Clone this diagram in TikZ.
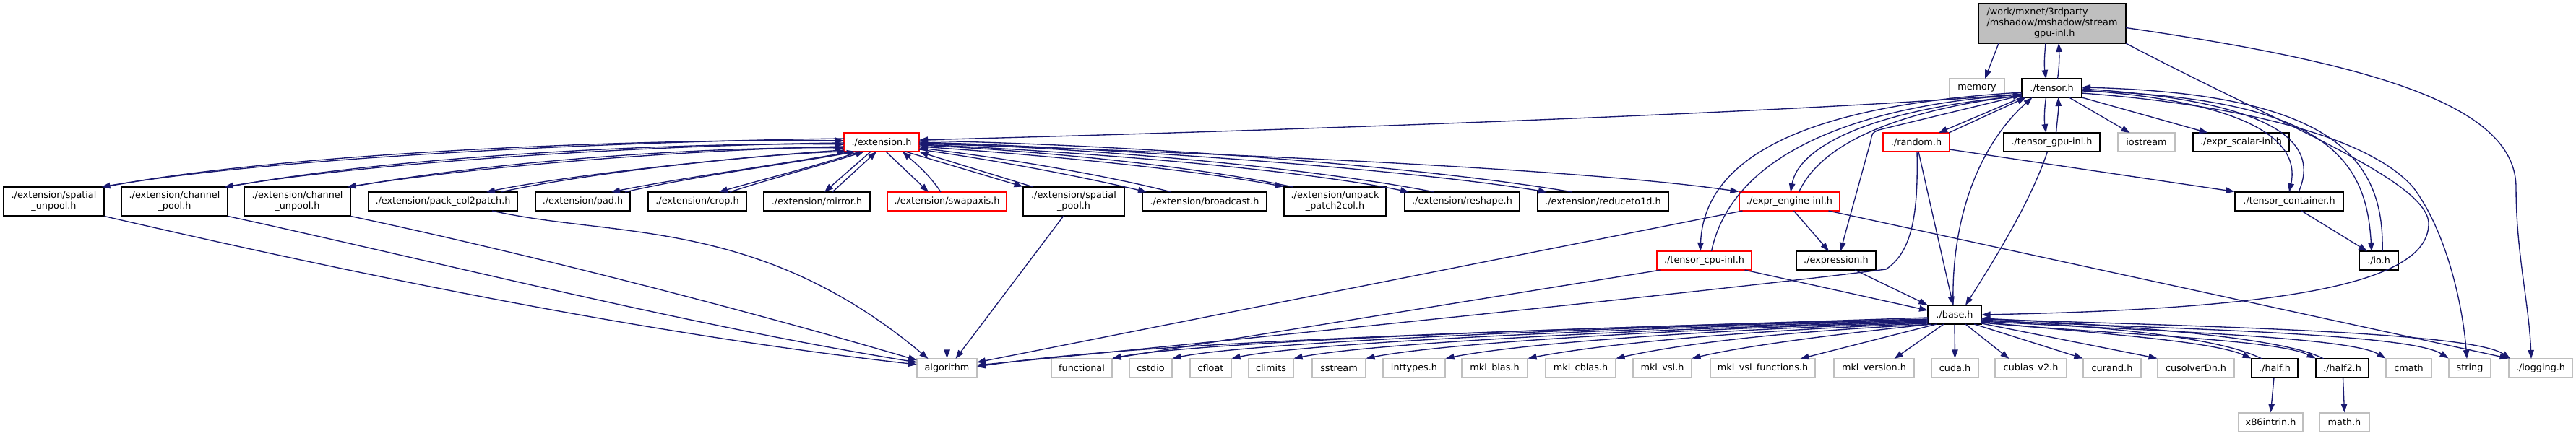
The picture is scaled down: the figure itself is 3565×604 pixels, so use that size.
\documentclass[tikz,border=0pt]{standalone}
\usepackage{fontspec}
\setmainfont{DejaVu Sans}
\usetikzlibrary{arrows.meta}
\definecolor{eb}{RGB}{25,25,112}
\definecolor{gborder}{RGB}{191,191,191}
\definecolor{topfill}{RGB}{191,191,191}
\begin{document}
\begin{tikzpicture}[x=1pt,y=-1pt,
  box/.style={draw=black, line width=1.1pt, fill=white, inner sep=0pt, font=\fontsize{12.8}{15}\selectfont, align=center},
  rbox/.style={box, draw=red},
  gbox/.style={box, draw=gborder},
  conn/.style={draw=eb, line width=1.35pt, -{Triangle[length=12pt,width=8.5pt]}},
]
\useasboundingbox[fill=white] (0,0) rectangle (3565,604);

% ---------- nodes ----------
\node[box, fill=topfill, minimum width=204pt, minimum height=55pt] (top) at (2840,32.5)
  {\begin{tabular}{@{}l@{}}/work/mxnet/3rdparty\\/mshadow/mshadow/stream\\\multicolumn{1}{@{}c@{}}{\_gpu-inl.h}\end{tabular}};
\node[gbox, minimum width=76pt, minimum height=26pt] (memory) at (2736,122) {memory};
\node[box, minimum width=83pt, minimum height=26pt] (tensor) at (2839.5,122) {./tensor.h};
\node[rbox, minimum width=92pt, minimum height=26pt] (random) at (2652,197) {./random.h};
\node[box, minimum width=133pt, minimum height=26pt] (tgpu) at (2839.5,197) {./tensor\_gpu-inl.h};
\node[gbox, minimum width=79pt, minimum height=26pt] (iostream) at (2970.5,197) {iostream};
\node[box, minimum width=133pt, minimum height=26pt] (escalar) at (3101.5,197) {./expr\_scalar-inl.h};
\node[rbox, minimum width=104pt, minimum height=26pt] (ext) at (1220,197) {./extension.h};
\node[rbox, minimum width=139pt, minimum height=26pt] (eengine) at (2476.5,279) {./expr\_engine-inl.h};
\node[box, minimum width=150pt, minimum height=26pt] (tcont) at (3168,279) {./tensor\_container.h};
\node[rbox, minimum width=131pt, minimum height=26pt] (tcpu) at (2358.5,361) {./tensor\_cpu-inl.h};
\node[box, minimum width=110pt, minimum height=26pt] (expression) at (2541,361) {./expression.h};
\node[box, minimum width=54pt, minimum height=26pt] (io) at (3292,361) {./io.h};
\node[box, minimum width=74pt, minimum height=26pt] (base) at (2705,436) {./base.h};

\node[box, minimum width=139pt, minimum height=40pt] (sunpool) at (74.5,279) {./extension/spatial\\\_unpool.h};
\node[box, minimum width=147pt, minimum height=40pt] (cpool) at (241.5,279) {./extension/channel\\\_pool.h};
\node[box, minimum width=147pt, minimum height=40pt] (cunpool) at (411.5,279) {./extension/channel\\\_unpool.h};
\node[box, minimum width=206pt, minimum height=26pt] (pack) at (613,279) {./extension/pack\_col2patch.h};
\node[box, minimum width=131pt, minimum height=26pt] (pad) at (806.5,279) {./extension/pad.h};
\node[box, minimum width=136pt, minimum height=26pt] (crop) at (965,279) {./extension/crop.h};
\node[box, minimum width=147pt, minimum height=26pt] (mirror) at (1130.5,279) {./extension/mirror.h};
\node[rbox, minimum width=165pt, minimum height=26pt] (swap) at (1310.5,279) {./extension/swapaxis.h};
\node[box, minimum width=140pt, minimum height=40pt] (spool) at (1486,279) {./extension/spatial\\\_pool.h};
\node[box, minimum width=172pt, minimum height=26pt] (bcast) at (1667,279) {./extension/broadcast.h};
\node[box, minimum width=141pt, minimum height=40pt] (unpack) at (1847.5,279) {./extension/unpack\\\_patch2col.h};
\node[box, minimum width=159pt, minimum height=26pt] (reshape) at (2023.5,279) {./extension/reshape.h};
\node[box, minimum width=181pt, minimum height=26pt] (reduce) at (2218.5,279) {./extension/reduceto1d.h};

\node[gbox, minimum width=83pt, minimum height=26pt] (algorithm) at (1310.5,510) {algorithm};
\node[gbox, minimum width=84pt, minimum height=26pt] (functional) at (1497,510) {functional};
\node[gbox, minimum width=59pt, minimum height=26pt] (cstdio) at (1592.5,510) {cstdio};
\node[gbox, minimum width=57pt, minimum height=26pt] (cfloat) at (1675.5,510) {cfloat};
\node[gbox, minimum width=62pt, minimum height=26pt] (climits) at (1759,510) {climits};
\node[gbox, minimum width=74pt, minimum height=26pt] (sstream) at (1853,510) {sstream};
\node[gbox, minimum width=86pt, minimum height=26pt] (inttypes) at (1957,510) {inttypes.h};
\node[gbox, minimum width=91pt, minimum height=26pt] (mklblas) at (2068.5,510) {mkl\_blas.h};
\node[gbox, minimum width=97pt, minimum height=26pt] (mklcblas) at (2187.5,510) {mkl\_cblas.h};
\node[gbox, minimum width=81pt, minimum height=26pt] (mklvsl) at (2300.5,510) {mkl\_vsl.h};
\node[gbox, minimum width=145pt, minimum height=26pt] (mklvslf) at (2439.5,510) {mkl\_vsl\_functions.h};
\node[gbox, minimum width=111pt, minimum height=26pt] (mklver) at (2593.5,510) {mkl\_version.h};
\node[gbox, minimum width=65pt, minimum height=26pt] (cuda) at (2705.5,510) {cuda.h};
\node[gbox, minimum width=99pt, minimum height=26pt] (cublas) at (2810.5,510) {cublas\_v2.h};
\node[gbox, minimum width=80pt, minimum height=26pt] (curand) at (2923,510) {curand.h};
\node[gbox, minimum width=106pt, minimum height=26pt] (cusolver) at (3039,510) {cusolverDn.h};
\node[box, minimum width=64pt, minimum height=26pt] (half) at (3148,510) {./half.h};
\node[box, minimum width=73pt, minimum height=26pt] (halftwo) at (3241.5,510) {./half2.h};
\node[gbox, minimum width=63pt, minimum height=26pt] (cmath) at (3333.5,510) {cmath};
\node[gbox, minimum width=58pt, minimum height=26pt] (strng) at (3418,510) {string};
\node[gbox, minimum width=88pt, minimum height=26pt] (logging) at (3516,510) {./logging.h};
\node[gbox, minimum width=89pt, minimum height=26pt] (xintrin) at (3142.5,585) {x86intrin.h};
\node[gbox, minimum width=69pt, minimum height=26pt] (mathh) at (3244.5,585) {math.h};

% ---------- top node edges ----------
\draw[conn] ([shift={(-74,27.5)}]top.center) -- ([shift={(11,-13)}]memory.center);
\draw[conn] ([shift={(-9,27.5)}]top.center) .. controls (2829,80) and (2829,92) .. ([shift={(-8,-13)}]tensor.center);
\draw[conn] ([shift={(8,-13)}]tensor.center) .. controls (2850,92) and (2850,78) .. ([shift={(9,27.5)}]top.center);
\draw[conn] ([shift={(102,27.5)}]top.center) .. controls (3150,170) and (3361,250) .. (3361,310) .. controls (3361,395) and (3150,428) .. (base.east);
\draw[conn] ([shift={(102,6)}]top.center) .. controls (3300,90) and (3482,150) .. (3482,260) .. controls (3482,350) and (3500,420) .. ([shift={(-13,-13)}]logging.center);

% ---------- tensor.h edges ----------
\draw[conn] ([shift={(-41.5,8)}]tensor.center) .. controls (2600,148) and (2000,175) .. ([shift={(52,-3)}]ext.center);
\draw[conn] ([shift={(52,2)}]ext.center) .. controls (1700,212) and (2200,235) .. (eengine.north west);
\draw[conn] ([shift={(-41.5,13)}]tensor.center) -- ([shift={(31,-13)}]random.center);
\draw[conn] ([shift={(45,-13)}]random.center) -- ([shift={(-36,13)}]tensor.center);
\draw[conn] ([shift={(-2,-13)}]base.center) .. controls (2700,300) and (2740,200) .. ([shift={(-27,13)}]tensor.center);
\draw[conn] ([shift={(-8,13)}]tensor.center) .. controls (2829,152) and (2829,167) .. ([shift={(-8,-13)}]tgpu.center);
\draw[conn] ([shift={(6,-13)}]tgpu.center) .. controls (2847,167) and (2849,152) .. ([shift={(9,13)}]tensor.center);
\draw[conn] ([shift={(24,13)}]tensor.center) -- ([shift={(-23,-13)}]iostream.center);
\draw[conn] ([shift={(41.5,13)}]tensor.center) -- ([shift={(-46,-13)}]escalar.center);
\draw[conn] ([shift={(41.5,3)}]tensor.center) .. controls (3100,140) and (3185,190) .. ([shift={(0,-13)}]tcont.center);
\draw[conn] ([shift={(13,-13)}]tcont.center) .. controls (3215,190) and (3130,140) .. ([shift={(41.5,1)}]tensor.center);
\draw[conn] ([shift={(41.5,4)}]tensor.center) .. controls (3220,135) and (3275,220) .. ([shift={(-10,-13)}]io.center);
\draw[conn] ([shift={(5,-13)}]io.center) .. controls (3300,220) and (3230,130) .. ([shift={(41.5,-1)}]tensor.center);
\draw[conn] ([shift={(41.5,7)}]tensor.center) .. controls (3100,145) and (3280,190) .. (3340,260) .. controls (3385,320) and (3408,420) .. ([shift={(-4,-13)}]strng.center);
\draw[conn] ([shift={(-41.5,10)}]tensor.center) -- (2600,180) .. controls (2591,184) .. (2589,195) -- ([shift={(6,-13)}]expression.center);
\draw[conn] ([shift={(-41.5,6)}]tensor.center) .. controls (2600,140) and (2360,180) .. ([shift={(-5.5,-13)}]tcpu.center);
\draw[conn] ([shift={(10,-13)}]tcpu.center) .. controls (2400,200) and (2600,145) .. ([shift={(-41.5,9)}]tensor.center);
\draw[conn] ([shift={(-41.5,11)}]tensor.center) .. controls (2600,150) and (2490,200) .. ([shift={(1.5,-13)}]eengine.center);
\draw[conn] ([shift={(13,-13)}]eengine.center) .. controls (2520,200) and (2620,155) .. ([shift={(-41.5,10)}]tensor.center);

% ---------- middle edges ----------
\draw[conn] ([shift={(3,13)}]random.center) -- ([shift={(-2,-13)}]base.center);
\draw[conn] ([shift={(1,13)}]random.center) .. controls (2655,300) and (2645,350) .. (2610,373) .. controls (2400,400) and (1800,462) .. ([shift={(41.5,-4)}]algorithm.center);
\draw[conn] ([shift={(46,10)}]random.center) -- (tcont.north west);
\draw[conn] ([shift={(-6,13)}]tgpu.center) .. controls (2810,280) and (2760,360) .. ([shift={(15,-13)}]base.center);
\draw[conn] ([shift={(17,13)}]tcont.center) -- ([shift={(-16,-13)}]io.center);
\draw[conn] ([shift={(6,13)}]eengine.center) -- ([shift={(-10,-13)}]expression.center);
\draw[conn] ([shift={(-65,13)}]eengine.center) -- ([shift={(41.5,-8)}]algorithm.center);
\draw[conn] ([shift={(54,13)}]eengine.center) -- (logging.north west);
\draw[conn] ([shift={(26,13)}]expression.center) -- (base.north west);
\draw[conn] ([shift={(56,13)}]tcpu.center) -- ([shift={(-37,-6)}]base.center);
\draw[conn] ([shift={(-60,13)}]tcpu.center) -- (functional.north east);

% ---------- base.h edges ----------
\draw[conn] ([shift={(-37,4)}]base.center) .. controls (2200,456) and (1600,470) .. ([shift={(41.5,-2)}]algorithm.center);
\draw[conn] ([shift={(-37,6)}]base.center) .. controls (2103,455) and (1640,476) .. (functional.north east);
\draw[conn] ([shift={(-37,7)}]base.center) .. controls (2145,455) and (1722,476) .. (cstdio.north east);
\draw[conn] ([shift={(-37,8)}]base.center) .. controls (2186,456) and (1804,476) .. (cfloat.north east);
\draw[conn] ([shift={(-37,9)}]base.center) .. controls (2229,457) and (1890,477) .. (climits.north east);
\draw[conn] ([shift={(-37,10)}]base.center) .. controls (2279,457) and (1990,477) .. (sstream.north east);
\draw[conn] ([shift={(-37,11)}]base.center) .. controls (2334,458) and (2100,477) .. (inttypes.north east);
\draw[conn] ([shift={(-37,12)}]base.center) .. controls (2391,459) and (2210,478) .. (mklblas.north east);
\draw[conn] (base.south west) .. controls (2452,460) and (2320,478) .. (mklcblas.north east);
\draw[conn] ([shift={(-32,13)}]base.center) .. controls (2550,462) and (2420,478) .. (mklvsl.north east);
\draw[conn] ([shift={(-25,13)}]base.center) -- ([shift={(52,-13)}]mklvslf.center);
\draw[conn] ([shift={(-15,13)}]base.center) -- ([shift={(28,-13)}]mklver.center);
\draw[conn] (base.south) -- (cuda.north);
\draw[conn] ([shift={(15,13)}]base.center) -- ([shift={(-30,-13)}]cublas.center);
\draw[conn] ([shift={(27,13)}]base.center) -- (curand.north west);
\draw[conn] ([shift={(37,12)}]base.center) -- (cusolver.north west);
\draw[conn] ([shift={(37,10)}]base.center) .. controls (2900,462) and (3060,472) .. (half.north west);
\draw[conn] ([shift={(-18,-13)}]half.center) .. controls (3070,466) and (2900,452) .. ([shift={(37,7)}]base.center);
\draw[conn] ([shift={(37,11)}]base.center) .. controls (2920,463) and (3150,470) .. (halftwo.north west);
\draw[conn] ([shift={(-26,-13)}]halftwo.center) .. controls (3160,466) and (2920,450) .. ([shift={(37,5)}]base.center);
\draw[conn] ([shift={(37,9)}]base.center) .. controls (2960,458) and (3250,466) .. (cmath.north west);
\draw[conn] ([shift={(37,8)}]base.center) .. controls (3000,455) and (3335,462) .. (strng.north west);
\draw[conn] ([shift={(37,6)}]base.center) .. controls (3050,452) and (3420,460) .. ([shift={(-42,-13)}]logging.center);
\draw[conn] ([shift={(-1,13)}]half.center) -- (xintrin.north);
\draw[conn] ([shift={(1,13)}]halftwo.center) -- (mathh.north);

% ---------- extension.h edges (left) ----------
\draw[conn] ([shift={(-52,-5)}]ext.center) .. controls (900,195) and (400,215) .. ([shift={(66,-20)}]sunpool.center);
\draw[conn] ([shift={(69.5,-20)}]sunpool.center) .. controls (400,210) and (900,192) .. ([shift={(-52,-2)}]ext.center);
\draw[conn] ([shift={(-52,1)}]ext.center) .. controls (950,200) and (550,220) .. ([shift={(69,-20)}]cpool.center);
\draw[conn] ([shift={(73.5,-20)}]cpool.center) .. controls (550,215) and (950,197) .. ([shift={(-52,3)}]ext.center);
\draw[conn] ([shift={(-52,6)}]ext.center) .. controls (1000,206) and (700,225) .. ([shift={(69,-20)}]cunpool.center);
\draw[conn] ([shift={(73.5,-20)}]cunpool.center) .. controls (700,220) and (1000,203) .. ([shift={(-52,8)}]ext.center);
\draw[conn] ([shift={(-52,11)}]ext.center) .. controls (1050,215) and (800,240) .. ([shift={(60,-13)}]pack.center);
\draw[conn] ([shift={(80,-13)}]pack.center) .. controls (820,238) and (1060,213) .. ([shift={(-50,13)}]ext.center);
\draw[conn] ([shift={(-42,13)}]ext.center) .. controls (1100,225) and (950,245) .. ([shift={(39.5,-13)}]pad.center);
\draw[conn] ([shift={(58.5,-13)}]pad.center) .. controls (960,244) and (1110,224) .. ([shift={(-36,13)}]ext.center);
\draw[conn] ([shift={(-30,13)}]ext.center) .. controls (1130,230) and (1050,250) .. ([shift={(30,-13)}]crop.center);
\draw[conn] ([shift={(45,-13)}]crop.center) .. controls (1065,248) and (1140,228) .. ([shift={(-24,13)}]ext.center);
\draw[conn] ([shift={(-15,13)}]ext.center) -- ([shift={(10.5,-13)}]mirror.center);
\draw[conn] ([shift={(21.5,-13)}]mirror.center) -- ([shift={(-7,13)}]ext.center);

% ---------- extension.h edges (right) ----------
\draw[conn] ([shift={(6,13)}]ext.center) -- ([shift={(-25.5,-13)}]swap.center);
\draw[conn] ([shift={(-8.5,-13)}]swap.center) .. controls (1285,240) and (1262,222) .. ([shift={(29,13)}]ext.center);
\draw[conn] ([shift={(33,13)}]ext.center) -- (spool.north west);
\draw[conn] ([shift={(-56,-20)}]spool.center) -- (ext.south east);
\draw[conn] ([shift={(52,10)}]ext.center) .. controls (1400,225) and (1520,250) .. ([shift={(-80,-13)}]bcast.center);
\draw[conn] ([shift={(-46,-13)}]bcast.center) .. controls (1540,245) and (1400,220) .. ([shift={(52,8)}]ext.center);
\draw[conn] ([shift={(52,6)}]ext.center) .. controls (1450,215) and (1650,235) .. (unpack.north west);
\draw[conn] ([shift={(-58,-20)}]unpack.center) .. controls (1650,230) and (1450,210) .. ([shift={(52,4)}]ext.center);
\draw[conn] ([shift={(52,3)}]ext.center) .. controls (1500,210) and (1800,235) .. ([shift={(-73.5,-13)}]reshape.center);
\draw[conn] ([shift={(-38.5,-13)}]reshape.center) .. controls (1800,230) and (1500,205) .. ([shift={(52,1)}]ext.center);
\draw[conn] ([shift={(52,0)}]ext.center) .. controls (1550,205) and (1950,235) .. ([shift={(-77.5,-13)}]reduce.center);
\draw[conn] ([shift={(-42.5,-13)}]reduce.center) .. controls (1950,228) and (1550,200) .. ([shift={(52,-2)}]ext.center);

% ---------- extension children to algorithm ----------
\draw[conn] (sunpool.south east) .. controls (450,370) and (870,460) .. ([shift={(-41.5,-5)}]algorithm.center);
\draw[conn] (cpool.south east) .. controls (615,365) and (950,450) .. ([shift={(-41.5,-8)}]algorithm.center);
\draw[conn] (cunpool.south east) .. controls (700,345) and (1000,420) .. ([shift={(-41.5,-11)}]algorithm.center);
\draw[conn] ([shift={(68,13)}]pack.center) .. controls (850,330) and (1050,300) .. ([shift={(-26,-13)}]algorithm.center);
\draw[conn] (swap.south) -- (algorithm.north);
\draw[conn] ([shift={(-14,20)}]spool.center) -- ([shift={(12,-13)}]algorithm.center);
\end{tikzpicture}
\end{document}
